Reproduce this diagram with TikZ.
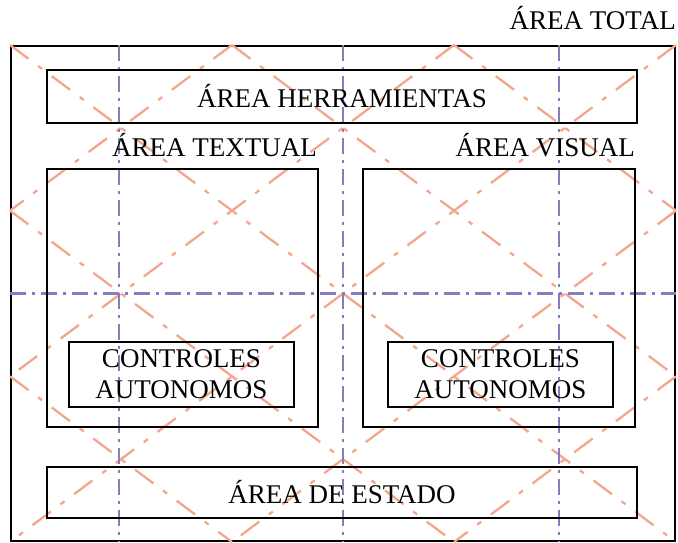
\documentclass[tikz,border=0pt]{standalone}
\usepackage{fontspec}
\setmainfont{Liberation Serif}
\usepackage{tikz}
\usetikzlibrary{positioning, calc}
\definecolor{guidepurple}{RGB}{134,124,190}
\definecolor{diagorange}{RGB}{244,166,140}

\begin{document}
\begin{tikzpicture}[x=1pt, y=1pt]
	% Define styles
	\tikzset{
		area/.style={rectangle, draw, line width=2pt, inner sep=0pt, align=center, font=\fontsize{27}{31}\selectfont},
		areaname/.style={inner sep=0pt, font=\fontsize{27}{31}\selectfont},
		guide/.style={draw=guidepurple, line width=2.3pt, dash pattern=on 16pt off 6pt on 3pt off 6pt},
		diag/.style={draw=diagorange, line width=2.3pt, dash pattern=on 23pt off 12pt on 5pt off 12pt}
	}
	\useasboundingbox (0,0) rectangle (678,543);
	
	% Outer area
	\node[area, minimum width=664pt, minimum height=495pt] (total) at (343,249.5) {};
	
	% Points on the border
	\coordinate (n1) at ($(total.north west)!0.3333!(total.north east)$);
	\coordinate (n2) at ($(total.north west)!0.6667!(total.north east)$);
	\coordinate (s1) at ($(total.south west)!0.3333!(total.south east)$);
	\coordinate (s2) at ($(total.south west)!0.6667!(total.south east)$);
	\coordinate (w1) at ($(total.north west)!0.3333!(total.south west)$);
	\coordinate (w2) at ($(total.north west)!0.6667!(total.south west)$);
	\coordinate (e1) at ($(total.north east)!0.3333!(total.south east)$);
	\coordinate (e2) at ($(total.north east)!0.6667!(total.south east)$);
	
	% Diagonals
	\draw[diag] (total.north west) -- (total.south east);
	\draw[diag] (n1) -- (e2);
	\draw[diag] (n2) -- (e1);
	\draw[diag] (w1) -- (s2);
	\draw[diag] (w2) -- (s1);
	\draw[diag] (n1) -- (w1);
	\draw[diag] (n2) -- (w2);
	\draw[diag] (total.north east) -- (total.south west);
	\draw[diag] (e1) -- (s1);
	\draw[diag] (e2) -- (s2);
	
	% Guides
	\foreach \f in {0.164, 0.5, 0.824}
		\draw[guide] ($(total.north west)!\f!(total.north east)$) -- ($(total.south west)!\f!(total.south east)$);
	\draw[guide] (total.west) -- (total.east);
	
	% Areas
	\node[area, minimum width=590pt, minimum height=53pt] (herramientas) at (342,446.5) {ÁREA HERRAMIENTAS};
	\node[area, minimum width=271pt, minimum height=258pt] (textual) at (182.5,245) {};
	\node[area, minimum width=272pt, minimum height=258pt] (visual) at (499,245) {};
	\node[area, minimum width=225pt, minimum height=65pt] (ctrltextual) at (181.5,168.5) {CONTROLES\\AUTONOMOS};
	\node[area, minimum width=225pt, minimum height=65pt] (ctrlvisual) at (500.5,168.5) {CONTROLES\\AUTONOMOS};
	\node[area, minimum width=590pt, minimum height=51pt] (estado) at (342,50.5) {ÁREA DE ESTADO};
	
	% Names
	\node[areaname, above left=15pt and 0pt of total.north east] (lbltotal) {ÁREA TOTAL};
	\node[areaname, above left=11pt and 2pt of textual.north east] (lbltextual) {ÁREA TEXTUAL};
	\node[areaname, above left=11pt and 1pt of visual.north east] (lblvisual) {ÁREA VISUAL};
\end{tikzpicture}
\end{document}
